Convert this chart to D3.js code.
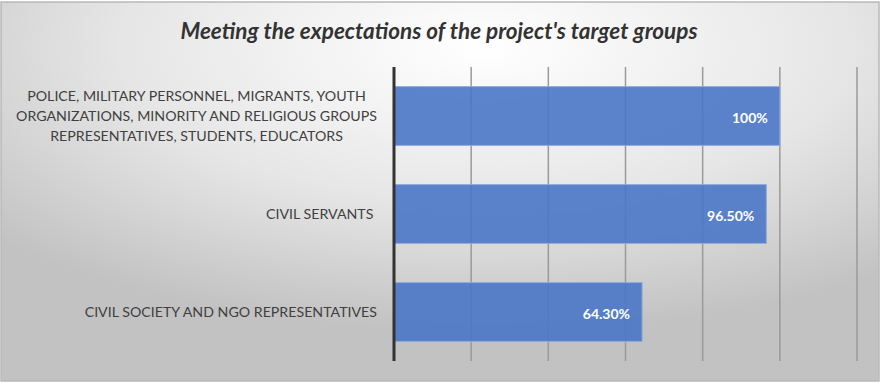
<!DOCTYPE html>
<html>
<head>
<meta charset="utf-8">
<script src="https://cdn.jsdelivr.net/npm/d3@7"></script>
<style>
  html, body { margin: 0; padding: 0; background: #ffffff; }
  svg { display: block; }
  .cat { white-space: pre; }
</style>
</head>
<body>
<svg id="chart" width="880" height="383"></svg>
<script>
// Target groups (top to bottom) and the share whose expectations were met
const categories = [
  ["POLICE, MILITARY PERSONNEL, MIGRANTS, YOUTH", "ORGANIZATIONS, MINORITY AND RELIGIOUS GROUPS", "REPRESENTATIVES, STUDENTS, EDUCATORS"],
  ["CIVIL SERVANTS "],
  ["CIVIL SOCIETY AND NGO REPRESENTATIVES"]
];
const values = [100, 96.5, 64.3];
const valueLabels = ["100%", "96.50%", "64.30%"];
const gridTicks = [0, 20, 40, 60, 80, 100, 120];
const title = "Meeting the expectations of the project's target groups";

const W = 880, H = 383;
const margin = { top: 67, right: 23, bottom: 22, left: 394 };

const svg = d3.select("#chart");
const defs = svg.append("defs");

const bg = defs.append("radialGradient")
  .attr("id", "bgGrad")
  .attr("cx", "0.55").attr("cy", "0.12")
  .attr("r", "0.75");
bg.append("stop").attr("offset", "0").attr("stop-color", "#ffffff");
bg.append("stop").attr("offset", "0.55").attr("stop-color", "#e6e6e6");
bg.append("stop").attr("offset", "1").attr("stop-color", "#c2c2c2");

// Chart area background and frame
svg.append("rect")
  .attr("x", 1).attr("y", 2).attr("width", W - 2).attr("height", H - 4)
  .attr("fill", "url(#bgGrad)")
  .attr("stroke", "#b8b8b8").attr("stroke-width", 1.5);

const x = d3.scaleLinear()
  .domain([0, 120])
  .range([margin.left, W - margin.right]);

const y = d3.scaleBand()
  .domain(d3.range(categories.length))
  .range([margin.top, H - margin.bottom])
  .paddingInner(0.4)
  .paddingOuter(0.2);

// Vertical gridlines
svg.append("g")
  .selectAll("line")
  .data(gridTicks.slice(1))
  .join("line")
  .attr("x1", d => x(d)).attr("x2", d => x(d))
  .attr("y1", margin.top).attr("y2", H - margin.bottom)
  .attr("stroke", "#9a9a9a").attr("stroke-width", 1.5);

// Bars
svg.append("g")
  .selectAll("rect")
  .data(values)
  .join("rect")
  .attr("x", x(0))
  .attr("y", (d, i) => y(i))
  .attr("width", d => x(d) - x(0))
  .attr("height", y.bandwidth())
  .attr("fill", "#4a77c6")
  .attr("fill-opacity", 0.9)
  .attr("stroke", "#8eaadb")
  .attr("stroke-width", 1);

// Value axis baseline
svg.append("line")
  .attr("x1", x(0)).attr("x2", x(0))
  .attr("y1", margin.top).attr("y2", H - margin.bottom)
  .attr("stroke", "#333333").attr("stroke-width", 3);

// Data labels inside bar ends
svg.append("g")
  .selectAll("text")
  .data(values)
  .join("text")
  .attr("x", d => x(d) - 12)
  .attr("y", (d, i) => y(i) + y.bandwidth() / 2 + 2)
  .attr("dy", "0.35em")
  .attr("text-anchor", "end")
  .attr("font-family", "Lato, 'Open Sans', sans-serif")
  .attr("font-weight", "bold")
  .attr("font-size", 14)
  .attr("fill", "#ffffff")
  .text((d, i) => valueLabels[i]);

// Category labels, lines centred as a block that ends near the axis
const labelRight = 377;
const lineH = 20;
const catG = svg.append("g");
categories.forEach((lines, i) => {
  const t = catG.append("text")
    .attr("class", "cat")
    .attr("font-family", "Lato, 'Open Sans', sans-serif")
    .attr("font-size", 14.2)
    .attr("fill", "#404040")
    .attr("text-anchor", "middle");
  const tsp = lines.map((ln, k) => t.append("tspan").text(ln));
  const maxW = d3.max(tsp, s => s.node().getComputedTextLength());
  const cx = labelRight - maxW / 2;
  const cy = y(i) + y.bandwidth() / 2;
  tsp.forEach((s, k) => {
    s.attr("x", cx)
     .attr("y", cy + (k - (lines.length - 1) / 2) * lineH)
     .attr("dy", "0.36em");
  });
});

// Title
svg.append("text")
  .attr("x", 439).attr("y", 31)
  .attr("dy", "0.35em")
  .attr("text-anchor", "middle")
  .attr("font-family", "Lato, 'Open Sans', sans-serif")
  .attr("font-weight", "bold")
  .attr("font-style", "italic")
  .attr("font-size", 22.5)
  .attr("fill", "#333333")
  .text(title);
</script>
</body>
</html>
